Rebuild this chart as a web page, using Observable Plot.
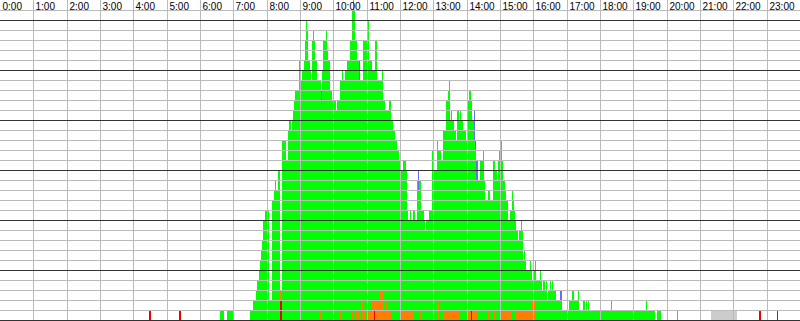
<!DOCTYPE html>
<html>
<head>
<meta charset="utf-8">
<script src="https://cdn.jsdelivr.net/npm/d3@7"></script>
<script src="https://cdn.jsdelivr.net/npm/@observablehq/plot@0.6"></script>
<style>
  html, body { margin: 0; padding: 0; background: #fff; }
  #chart svg { display: block; }
</style>
</head>
<body>
<div id="chart"></div>
<script>
// Hour labels along the top (minutes since midnight for each)
const hourLabels = ["0:00","1:00","2:00","3:00","4:00","5:00","6:00","7:00","8:00","9:00","10:00","11:00",
  "12:00","13:00","14:00","15:00","16:00","17:00","18:00","19:00","20:00","21:00","22:00","23:00"];
const hourMinutes = [0,60,120,180,240,300,360,420,480,540,600,660,720,780,840,900,960,1020,1080,1140,1200,1260,1320,1380];

// Total count (green column height) — runs: each run starts at envStart[i] (minutes) and lasts until envStart[i+1]
const envStart = [396,404,408,419,450,455,461,463,467,468,470,472,473,474,477,480,482,485,489,493,495,497,501,504,508,515,519,520,524,525,527,529,531,536,537,538,541,544,547,549,551,553,554,555,558,559,561,564,566,567,570,577,579,582,587,589,590,594,597,604,606,612,615,618,621,624,630,633,635,637,639,642,648,654,660,662,664,669,675,678,687,690,693,701,703,707,711,715,718,721,725,731,733,735,738,740,744,747,751,752,754,757,763,765,766,772,777,780,786,788,793,798,803,806,808,810,812,814,818,820,823,826,828,830,834,838,840,843,845,848,849,853,855,857,860,864,870,872,873,879,882,888,891,894,897,898,901,903,906,909,911,915,918,921,924,925,927,928,933,934,937,940,942,943,945,947,950,951,954,956,957,961,963,965,972,974,976,978,981,983,984,985,986,990,992,994,995,1001,1008,1012,1024,1030,1033,1040,1042,1049,1053,1054,1057,1058,1061,1100,1102,1163,1165,1179,1183,1190,1219,1220];
const envCount = [1,0,1,0,1,2,3,4,5,6,7,8,9,10,11,12,11,2,12,13,14,13,15,3,18,16,19,20,19,20,21,22,23,24,23,26,24,25,26,28,30,29,28,26,25,24,28,29,28,26,24,23,25,28,29,27,26,23,22,21,22,24,25,24,25,26,28,31,32,31,28,26,24,28,26,30,26,25,28,24,25,22,21,22,20,19,18,17,16,15,16,15,11,10,11,10,11,10,14,15,14,11,10,9,10,11,17,15,18,17,16,19,22,23,24,20,21,20,19,18,21,20,21,20,19,18,23,22,23,22,20,21,18,16,14,16,17,14,12,13,12,16,15,14,16,17,18,16,14,13,12,10,11,13,12,11,10,9,8,9,10,9,6,7,6,5,6,5,6,5,4,5,6,4,5,4,3,4,3,4,3,2,3,4,3,4,3,2,3,1,2,3,2,3,1,2,1,2,1,2,1,2,1,2,1,0,1,0,1,0];

// Orange part at the bottom of the columns
const orangeStart = [504,575,612,628,633,639,645,651,654,661,667,683,684,690,695,698,721,750,756,787,797,842,847,879,888,901,903,927,957];
const orangeEnd   = [508,577,615,630,635,642,648,654,658,667,683,684,690,695,698,703,744,752,758,790,828,861,850,881,891,903,922,963,963];
const orangeCount = [3,1,1,1,1,1,1,2,1,1,2,1,3,1,2,1,1,1,1,2,1,1,2,1,1,2,1,1,2];

// Red part
const redStart = [269,323,504,673,847,1367,1399];
const redEnd   = [271,325,508,675,850,1369,1401];
const redCount = [1,1,2,1,1,1,1];

// Blue part (from / to count)
const blueStart = [577,646,752,853,855,857,1008];
const blueEnd   = [579,648,754,855,857,860,1012];
const blueFrom  = [22,24,13,18,17,14,2];
const blueTo    = [23,26,15,21,18,16,3];

// Grey part
const greyStart = [1280];
const greyEnd   = [1326];
const greyCount = [1];

// Grid levels
const gridLevels = d3.range(1, 32);
const majorLevels = [0,5,10,15,20,25,30];

const env = envCount.slice(0, -1).map((c, i) => ({x1: envStart[i], x2: envStart[i + 1], y: c})).filter(d => d.y > 0);
const orange = orangeStart.map((s, i) => ({x1: s, x2: orangeEnd[i], y: orangeCount[i]}));
const red = redStart.map((s, i) => ({x1: s, x2: redEnd[i], y: redCount[i]}));
const blue = blueStart.map((s, i) => ({x1: s, x2: blueEnd[i], y1: blueFrom[i], y2: blueTo[i]}));
const grey = greyStart.map((s, i) => ({x1: s, x2: greyEnd[i], y: greyCount[i]}));
const hours = hourLabels.map((t, i) => ({label: t, x: hourMinutes[i]}));

const chart = Plot.plot({
  width: 800,
  height: 321,
  marginTop: 0, marginRight: 0, marginBottom: 1, marginLeft: 0,
  style: {background: "#fff"},
  x: {domain: [0, 1440], axis: null, round: true},
  y: {domain: [0, 32], axis: null, round: true},
  marks: [
    Plot.rectY(env, {x1: "x1", x2: "x2", y: "y", fill: "#00ff00", inset: 0, shapeRendering: "crispEdges"}),
    Plot.rectY(grey, {x1: "x1", x2: "x2", y: "y", fill: "#cccccc", inset: 0, shapeRendering: "crispEdges"}),
    Plot.rectY(orange, {x1: "x1", x2: "x2", y: "y", fill: "#ff8000", inset: 0, shapeRendering: "crispEdges"}),
    Plot.rectY(red, {x1: "x1", x2: "x2", y: "y", fill: "#ee0000", inset: 0, shapeRendering: "crispEdges"}),
    Plot.rect(blue, {x1: "x1", x2: "x2", y1: "y1", y2: "y2", fill: "#6a6aff", inset: 0, shapeRendering: "crispEdges"}),
    Plot.ruleY(gridLevels.filter(v => !majorLevels.includes(v)), {stroke: "#bbbbbb", strokeWidth: 1, shapeRendering: "crispEdges"}),
    Plot.ruleX(hourMinutes.slice(1), {stroke: "#bbbbbb", strokeWidth: 1, shapeRendering: "crispEdges"}),
    Plot.ruleY(majorLevels, {stroke: "#333333", strokeWidth: 1, shapeRendering: "crispEdges"}),
    Plot.text(hours, {x: "x", y: 32, text: "label", textAnchor: "start", lineAnchor: "top", dx: 2, dy: 2,
      fill: "#000", fontSize: 10, fontFamily: "Liberation Sans, Arial, sans-serif"})
  ]
});
document.getElementById("chart").appendChild(chart);
</script>
</body>
</html>
